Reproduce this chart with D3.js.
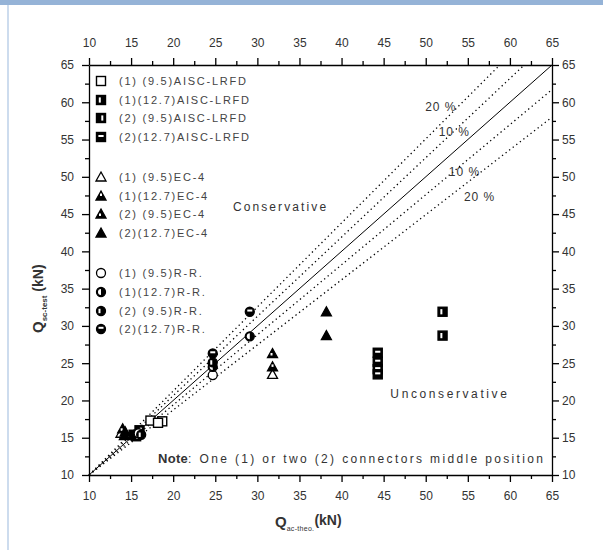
<!DOCTYPE html>
<html>
<head>
<meta charset="utf-8">
<script src="https://cdn.jsdelivr.net/npm/d3@7"></script>
<style>
html,body{margin:0;padding:0;background:#fff;}
svg{display:block;font-family:"Liberation Sans",Arial,sans-serif;}
</style>
</head>
<body>
<svg id="chart" width="603" height="550"></svg>
<script>
// ---------- data ----------
const xTicks = [10,15,20,25,30,35,40,45,50,55,60,65];
const yTicks = [10,15,20,25,30,35,40,45,50,55,60,65];
const domainMin = 10, domainMax = 65;

const legendLabels = [
  "(1)  (9.5)AISC-LRFD","(1)(12.7)AISC-LRFD","(2)  (9.5)AISC-LRFD","(2)(12.7)AISC-LRFD",
  "(1)  (9.5)EC-4","(1)(12.7)EC-4","(2)  (9.5)EC-4","(2)(12.7)EC-4",
  "(1)  (9.5)R-R.","(1)(12.7)R-R.","(2)  (9.5)R-R.","(2)(12.7)R-R."
];
const legendShapes = ["square","square","square","square","triangle","triangle","triangle","triangle","circle","circle","circle","circle"];
const legendStyles = [0,1,2,3,0,1,2,3,0,1,2,3];

// [theoretical, test] pairs per series
const aisc1_95  = [[17.3,17.3],[18.7,17.2],[18.2,17.0]];
const aisc1_127 = [[52.0,31.9],[52.0,28.7]];
const aisc2_95  = [[15.3,15.4],[16.0,16.0],[15.6,15.2]];
const aisc2_127 = [[44.3,26.4],[44.3,25.2],[44.3,24.2],[44.3,23.5]];
const ec1_95    = [[13.8,15.6],[31.8,23.5]];
const ec1_127   = [[14.2,15.3],[31.8,24.5]];
const ec2_95    = [[14.0,16.2],[31.8,26.3]];
const ec2_127   = [[14.3,15.8],[38.2,31.9],[38.2,28.7]];
const rr1_95    = [[24.7,23.4],[15.9,15.6]];
const rr1_127   = [[24.7,24.5],[29.1,28.6]];
const rr2_95    = [[24.7,25.1],[16.2,15.4]];
const rr2_127   = [[29.1,31.9],[24.7,26.3]];
const seriesData = [aisc1_95,aisc1_127,aisc2_95,aisc2_127,ec1_95,ec1_127,ec2_95,ec2_127,rr1_95,rr1_127,rr2_95,rr2_127];

// reference lines: start and end points (solid 1:1 line and dotted bands)
const perfectLine = [[10,10],[65,65]];
const guideLines = [
  [[10,10],[58.8,65]],
  [[10,10],[61.7,65]],
  [[10,10],[65,61.7]],
  [[10,10],[65,58.0]]
];
const guideLabels = ["20 %","10 %","10 %","20 %"];
const guideLabelPos = [[51.8,59.3],[53.4,56.0],[54.6,50.6],[56.4,47.3]];

const annotations = [
  {text:"Conservative", pos:[27.1,45.9], spacing:2.1},
  {text:"Unconservative", pos:[45.8,20.8], spacing:2.6}
];
const notePos = [18.2,12.2];

// ---------- drawing ----------
const svg = d3.select("#chart");
const L = 89, R = 552, T = 65, B = 475;
const x = d3.scaleLinear().domain([domainMin,domainMax]).range([L,R]);
const y = d3.scaleLinear().domain([domainMin,domainMax]).range([B,T]);

// frame decoration
svg.append("rect").attr("x",0).attr("y",0).attr("width",603).attr("height",5).attr("fill","#95b3d7");
svg.append("line").attr("x1",8).attr("x2",8).attr("y1",5).attr("y2",550).attr("stroke","#bdd0e8").attr("stroke-width",1.5);

const minorTicks = d3.range(12.5,65,5);
const tickColor = "#333";
function styleAxis(g){
  g.select(".domain").attr("stroke","#000").attr("stroke-width",1.3);
  g.selectAll(".tick line").attr("stroke","#000").attr("stroke-width",1.3);
  g.selectAll(".tick text").attr("fill",tickColor).attr("font-size","12px");
}
function minorAxis(axisFn, scale, transform){
  svg.append("g").attr("transform",transform)
    .call(axisFn(scale).tickValues(minorTicks).tickSize(4).tickFormat(""))
    .call(g=>{g.select(".domain").remove(); g.selectAll(".tick line").attr("stroke","#000").attr("stroke-width",1.3);});
}
svg.append("g").attr("transform",`translate(0,${B})`)
  .call(d3.axisBottom(x).tickValues(xTicks).tickSize(7).tickPadding(9).tickSizeOuter(0)).call(styleAxis);
svg.append("g").attr("transform",`translate(0,${T})`)
  .call(d3.axisTop(x).tickValues(xTicks).tickSize(7).tickPadding(11).tickSizeOuter(0)).call(styleAxis);
svg.append("g").attr("transform",`translate(${L},0)`)
  .call(d3.axisLeft(y).tickValues(yTicks).tickSize(7).tickPadding(8).tickSizeOuter(0)).call(styleAxis);
svg.append("g").attr("transform",`translate(${R},0)`)
  .call(d3.axisRight(y).tickValues(yTicks).tickSize(7).tickPadding(3).tickSizeOuter(0)).call(styleAxis);
minorAxis(d3.axisBottom, x, `translate(0,${B})`);
minorAxis(d3.axisTop, x, `translate(0,${T})`);
minorAxis(d3.axisLeft, y, `translate(${L},0)`);
minorAxis(d3.axisRight, y, `translate(${R},0)`);

// lines
const lineGen = d3.line().x(d=>x(d[0])).y(d=>y(d[1]));
guideLines.forEach(seg=>{
  svg.append("path").attr("d",lineGen(seg)).attr("fill","none")
    .attr("stroke","#000").attr("stroke-width",1.3).attr("stroke-dasharray","1.3,3.2");
});
svg.append("path").attr("d",lineGen(perfectLine)).attr("fill","none").attr("stroke","#000").attr("stroke-width",1);

guideLabels.forEach((t,i)=>{
  svg.append("text").attr("x",x(guideLabelPos[i][0])).attr("y",y(guideLabelPos[i][1])+4)
    .attr("text-anchor","middle").attr("font-size","12px").attr("letter-spacing","1px")
    .attr("fill","#333").text(t);
});

// markers
function marker(g, shape, style){
  const s = 4.5;
  if(shape==="square"){
    g.append("rect").attr("x",-s).attr("y",-s).attr("width",2*s).attr("height",2*s)
      .attr("fill", style===0 ? "#fff" : "#000").attr("stroke","#000").attr("stroke-width",1.4);
    if(style===1) g.append("rect").attr("x",-2.2).attr("y",-2.6).attr("width",2).attr("height",5.2).attr("fill","#fff");
    if(style===2) g.append("rect").attr("x",0.3).attr("y",-2.6).attr("width",2).attr("height",5.2).attr("fill","#fff");
    if(style===3) g.append("rect").attr("x",-2.6).attr("y",-2).attr("width",5.2).attr("height",2).attr("fill","#fff");
  } else if(shape==="triangle"){
    g.append("path").attr("d",`M0,${-s-0.5}L${s+0.5},${s-0.5}L${-s-0.5},${s-0.5}Z`)
      .attr("fill", style===0 ? "#fff" : "#000").attr("stroke","#000").attr("stroke-width",1.3).attr("stroke-linejoin","miter");
    if(style===1) g.append("rect").attr("x",-1).attr("y",-2.5).attr("width",2).attr("height",2.5).attr("fill","#fff");
    if(style===2) g.append("rect").attr("x",-2).attr("y",-0.5).attr("width",2).attr("height",2.5).attr("fill","#fff");
  } else {
    g.append("circle").attr("r",s).attr("fill", style===0 ? "#fff" : "#000").attr("stroke","#000").attr("stroke-width",1.3);
    if(style===1) g.append("path").attr("d",`M0,-3A3,3 0 0 0 0,3Z`).attr("fill","#fff");
    if(style===2) g.append("rect").attr("x",-2.5).attr("y",-2.2).attr("width",2).attr("height",4.4).attr("fill","#fff");
    if(style===3) g.append("rect").attr("x",-2.5).attr("y",-2.2).attr("width",5).attr("height",2).attr("fill","#fff");
  }
}

seriesData.forEach((arr,i)=>{
  arr.forEach(d=>{
    const g = svg.append("g").attr("transform",`translate(${x(d[0])},${y(d[1])})`);
    marker(g, legendShapes[i], legendStyles[i]);
  });
});

// legend
const legendRowY = [81,100,118,137, 177,196,214,233, 273,292,311,329];
legendLabels.forEach((t,i)=>{
  const g = svg.append("g").attr("transform",`translate(101,${legendRowY[i]})`);
  marker(g, legendShapes[i], legendStyles[i]);
  svg.append("text").attr("x",119).attr("y",legendRowY[i]+4).attr("font-size","11px")
    .attr("letter-spacing","1.75px").attr("fill","#444").text(t);
});

// annotations
annotations.forEach(a=>{
  svg.append("text").attr("x",x(a.pos[0])).attr("y",y(a.pos[1])+4).attr("font-size","12px")
    .attr("letter-spacing",a.spacing+"px").attr("fill","#333").text(a.text);
});
const note = svg.append("text").attr("x",x(notePos[0])).attr("y",y(notePos[1])+4)
  .attr("font-size","12px").attr("letter-spacing","2.35px").attr("fill","#333");
note.append("tspan").attr("font-weight","bold").attr("font-size","13px").attr("letter-spacing","0.3px").text("Note");
note.append("tspan").text(": One (1) or two (2) connectors middle position");

// axis titles
const xt = svg.append("text").attr("x",275).attr("y",527).attr("font-weight","bold").attr("fill","#333");
xt.append("tspan").attr("font-size","15px").text("Q");
xt.append("tspan").attr("font-size","7px").attr("font-weight","normal").attr("dy",4).attr("letter-spacing","0.3px").text("ac-theo.");
xt.append("tspan").attr("font-size","14px").attr("dy",-6).text("(kN)");

const yt = svg.append("text").attr("transform","translate(43,333) rotate(-90)").attr("font-weight","bold").attr("fill","#333");
yt.append("tspan").attr("font-size","15px").text("Q");
yt.append("tspan").attr("font-size","8px").attr("dy",4).text("sc-test");
yt.append("tspan").attr("font-size","14px").attr("dy",-4).text(" (kN)");
</script>
</body>
</html>
